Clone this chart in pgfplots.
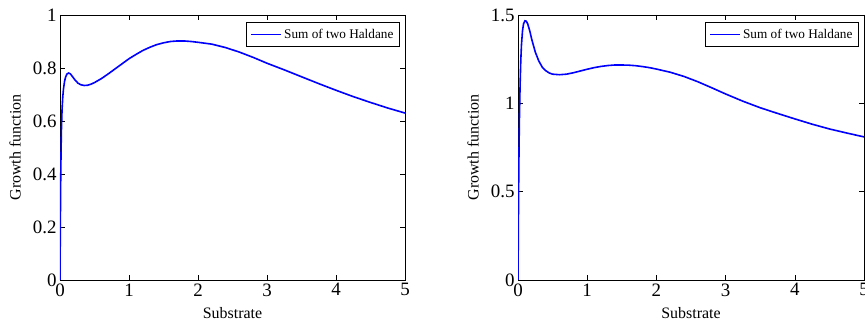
\documentclass[border=0pt]{standalone}
\usepackage{fontspec}
\setmainfont{Liberation Serif}
\usepackage{pgfplots}
\pgfplotsset{compat=1.18}

% matlab-like panel
\pgfplotsset{mlab/.style={
  scale only axis, anchor=south west, height=265bp,
  xmin=0, xmax=5, xtick={0,1,2,3,4,5},
  tick align=inside, major tick length=5bp,
  axis line style={line width=0.8bp},
  every tick/.style={black, line width=0.6bp},
  tick label style={font=\fontsize{19}{19}\selectfont},
  /pgf/number format/assume math mode=true,
  label style={font=\fontsize{16}{16}\selectfont},
  xlabel={Substrate}, ylabel={Growth function},
  xlabel style={at={(axis description cs:0.5,-0.125)}, anchor=center},
  ylabel style={at={(axis description cs:-0.13,0.5)}, anchor=center},
  legend style={at={(0.985,0.975)}, anchor=north east,
    font=\fontsize{13.3}{14}\selectfont, draw=black, line width=0.8bp,
    inner xsep=4bp, inner ysep=5bp},
  legend cell align=left,
  legend image code/.code={\draw[#1, blue, line width=1.6bp] (0bp,0bp) -- (30bp,0bp);},
  every axis plot/.append style={blue, line width=1.6bp, no marks},
}}

\pgfplotstableread{
s f
0 0
0.002 0.09
0.005 0.21
0.01 0.37
0.015 0.48
0.02 0.56
0.03 0.645
0.04 0.69
0.05 0.72
0.065 0.748
0.08 0.765
0.1 0.777
0.125 0.781
0.15 0.778
0.18 0.768
0.22 0.754
0.26 0.743
0.3 0.737
0.35 0.734
0.4 0.735
0.45 0.739
0.5 0.745
0.6 0.76
0.7 0.778
0.8 0.797
0.9 0.816
1.0 0.835
1.1 0.851
1.2 0.866
1.3 0.878
1.4 0.888
1.5 0.895
1.6 0.9
1.7 0.902
1.8 0.902
1.9 0.9
2.0 0.897
2.2 0.89
2.4 0.877
2.6 0.86
2.8 0.84
3.0 0.818
3.25 0.793
3.5 0.767
3.75 0.741
4.0 0.716
4.25 0.692
4.5 0.67
4.75 0.649
5.0 0.63
}\lefttab

\pgfplotstableread{
s f
0 0
0.002 0.12
0.005 0.3
0.01 0.55
0.015 0.75
0.02 0.9
0.03 1.1
0.04 1.24
0.05 1.33
0.065 1.41
0.08 1.45
0.1 1.467
0.12 1.465
0.14 1.45
0.17 1.41
0.2 1.36
0.25 1.29
0.3 1.24
0.35 1.205
0.4 1.185
0.45 1.172
0.5 1.165
0.6 1.162
0.7 1.165
0.8 1.173
0.9 1.183
1.0 1.193
1.1 1.202
1.2 1.209
1.3 1.214
1.4 1.217
1.5 1.217
1.6 1.216
1.7 1.213
1.8 1.208
1.9 1.202
2.0 1.194
2.2 1.176
2.4 1.152
2.6 1.122
2.8 1.088
3.0 1.053
3.25 1.012
3.5 0.975
3.75 0.943
4.0 0.912
4.25 0.882
4.5 0.855
4.75 0.832
5.0 0.81
}\righttab

\begin{document}
\begin{tikzpicture}
\useasboundingbox (0,0) rectangle (865bp,322bp);
\begin{axis}[mlab, at={(60bp,42bp)}, width=345bp,
  ymin=0, ymax=1, ytick={0,0.2,0.4,0.6,0.8,1}]
  \addplot table[x=s, y=f] {\lefttab};
  \addlegendentry{Sum of two Haldane}
\end{axis}
\begin{axis}[mlab, at={(518bp,42bp)}, width=346bp,
  ymin=0, ymax=1.5, ytick={0,0.5,1,1.5}]
  \addplot table[x=s, y=f] {\righttab};
  \addlegendentry{Sum of two Haldane}
\end{axis}
\end{tikzpicture}
\end{document}
